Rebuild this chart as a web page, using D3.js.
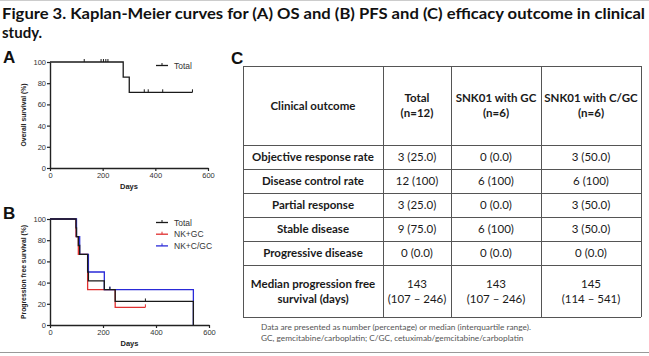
<!DOCTYPE html>
<html><head><meta charset="utf-8">
<script src="https://cdn.jsdelivr.net/npm/d3@7/dist/d3.min.js"></script>
<style>body{margin:0;background:#fff;}svg{display:block;}</style>
</head><body>
<script>
// ---- data ----
const titleLines = ["Figure 3. Kaplan-Meier curves for (A) OS and (B) PFS and (C) efficacy outcome in clinical", "study."];
const xTicks = [0, 200, 400, 600];
const yTicks = [0, 20, 40, 60, 80, 100];
// OS (A)
const osTotal = [[0,100],[278,85.7],[301,71.4],[541,71.4]];
const osCensor = [130,194,203,212,220,358,373,428,541];
// PFS (B)
const pfsTotal = [[0,100],[98,91.7],[100,83.3],[107,75],[112,66.7],[142,50],[145,41.7],[205,33.3],[246,22.2],[541,0]];
const pfsGC = [[0,100],[98,83.3],[107,66.7],[142,33.3],[246,16.7],[360,16.7]];
const pfsCGC = [[0,100],[100,83.3],[112,66.7],[145,50],[205,33.3],[541,33.3],[541,0]];
const pfsCensorTotal = [226, 360];
const pfsCensorGC = [360];
const pfsCensorCGC = [226];
const pfsNames = ["Total", "NK+GC", "NK+C/GC"];
const pfsColors = ["#1a1a1a", "#e03030", "#2a2ad8"];
// Table (C)
const tableHeader = [["Clinical outcome"], ["Total", "(n=12)"], ["SNK01 with GC", "(n=6)"], ["SNK01 with C/GC", "(n=6)"]];
const rowLabels = [["Objective response rate"], ["Disease control rate"], ["Partial response"], ["Stable disease"], ["Progressive disease"], ["Median progression free", "survival (days)"]];
const colTotal = [["3 (25.0)"], ["12 (100)"], ["3 (25.0)"], ["9 (75.0)"], ["0 (0.0)"], ["143", "(107 \u2013 246)"]];
const colGC = [["0 (0.0)"], ["6 (100)"], ["0 (0.0)"], ["6 (100)"], ["0 (0.0)"], ["143", "(107 \u2013 246)"]];
const colCGC = [["3 (50.0)"], ["6 (100)"], ["3 (50.0)"], ["3 (50.0)"], ["0 (0.0)"], ["145", "(114 \u2013 541)"]];
const footnotes = ["Data are presented as number (percentage) or median (interquartile range).", "GC, gemcitabine/carboplatin; C/GC, cetuximab/gemcitabine/carboplatin"];

// ---- drawing ----
const W = 649, H = 356;
const svg = d3.select("body").append("svg").attr("width", W).attr("height", H);
const sans = "Lato, 'Open Sans', sans-serif";
const arial = "'Liberation Sans', Arial, sans-serif";

svg.append("line").attr("x1",0).attr("x2",W).attr("y1",0.5).attr("y2",0.5).attr("stroke","#ccc");
svg.append("line").attr("x1",0).attr("x2",W).attr("y1",352.5).attr("y2",352.5).attr("stroke","#999");

svg.append("text").attr("x", 2).attr("y", 19).text(titleLines[0])
  .attr("font-family", sans).attr("font-weight", "bold").attr("font-size", 15).attr("fill", "#111")
  .attr("textLength", 643).attr("lengthAdjust", "spacingAndGlyphs");
svg.append("text").attr("x", 2).attr("y", 38).text(titleLines[1])
  .attr("font-family", sans).attr("font-weight", "bold").attr("font-size", 15).attr("fill", "#111");

function panelLetter(t, x, y) {
  svg.append("text").attr("x", x).attr("y", y).text(t).attr("font-family", arial)
    .attr("font-weight", "bold").attr("font-size", 17).attr("fill", "#111");
}
panelLetter("A", 3, 63);
panelLetter("B", 3, 219);
panelLetter("C", 231, 64);

function kmPanel(x0, x1, yTop, yBot, ylabel) {
  const x = d3.scaleLinear().domain([0, 600]).range([x0, x1]);
  const y = d3.scaleLinear().domain([0, 100]).range([yBot, yTop]);
  const g = svg.append("g");
  const ax = g.append("g").attr("transform", `translate(0,${yBot})`)
    .call(d3.axisBottom(x).tickValues(xTicks).tickSize(3).tickSizeOuter(0).tickPadding(2));
  const ay = g.append("g").attr("transform", `translate(${x0},0)`)
    .call(d3.axisLeft(y).tickValues(yTicks).tickSize(3).tickSizeOuter(0).tickPadding(1));
  [ax, ay].forEach(a => {
    a.select(".domain").attr("stroke", "#222").attr("stroke-width", 1.4);
    a.selectAll(".tick line").attr("stroke", "#222").attr("stroke-width", 1.2);
    a.selectAll(".tick text").attr("font-family", arial).attr("font-size", 7.5).attr("fill", "#333");
  });
  g.append("text").attr("x", (x0 + x1) / 2).attr("y", yBot + 21).attr("text-anchor", "middle")
    .text("Days").attr("font-family", arial).attr("font-weight", "bold").attr("font-size", 7.5).attr("fill", "#222");
  g.append("text").attr("transform", `translate(${x0 - 24},${(yTop + yBot) / 2}) rotate(-90)`)
    .attr("text-anchor", "middle").text(ylabel).attr("font-family", arial).attr("font-weight", "bold")
    .attr("font-size", 6.8).attr("fill", "#222");
  return { x, y, g };
}

function drawCurve(p, pts, censor, color) {
  const line = d3.line().x(d => p.x(d[0])).y(d => p.y(d[1])).curve(d3.curveStepAfter);
  p.g.append("path").attr("d", line(pts)).attr("fill", "none").attr("stroke", color).attr("stroke-width", 1.3);
  const survAt = t => { let s = pts[0][1]; pts.forEach(d => { if (d[0] <= t) s = d[1]; }); return s; };
  censor.forEach(t => {
    const yy = p.y(t >= pts[pts.length - 1][0] && pts[pts.length-1][1] === 0 ? pts[pts.length - 2][1] : survAt(t));
    p.g.append("line").attr("x1", p.x(t)).attr("x2", p.x(t)).attr("y1", yy - 3).attr("y2", yy)
      .attr("stroke", color).attr("stroke-width", 1);
  });
}

function legendItem(x, y, name, color) {
  svg.append("line").attr("x1", x).attr("x2", x + 12).attr("y1", y).attr("y2", y).attr("stroke", color).attr("stroke-width", 1.3);
  svg.append("line").attr("x1", x + 6).attr("x2", x + 6).attr("y1", y - 2.5).attr("y2", y).attr("stroke", color).attr("stroke-width", 1);
  svg.append("text").attr("x", x + 18).attr("y", y + 3).text(name).attr("font-family", arial)
    .attr("font-size", 8.5).attr("fill", "#333");
}

const pA = kmPanel(50, 208, 62, 168, "Overall survival (%)");
drawCurve(pA, osTotal, osCensor, "#1a1a1a");
legendItem(156, 65.5, "Total", "#1a1a1a");

const pB = kmPanel(50, 209, 219, 325, "Progression free survival (%)");
drawCurve(pB, pfsGC, pfsCensorGC, pfsColors[1]);
drawCurve(pB, pfsCGC, pfsCensorCGC, pfsColors[2]);
drawCurve(pB, pfsTotal, pfsCensorTotal, pfsColors[0]);
[pfsNames[0], pfsNames[1], pfsNames[2]].forEach((n, i) => legendItem(156, 222.5 + i * 11.7, n, pfsColors[i]));

// Table
const colX = [243, 383, 451, 541, 641];
const rowY = [66, 145, 169, 193, 217, 241, 265, 317];
const tg = svg.append("g");
rowY.forEach(yv => tg.append("line").attr("x1", colX[0]).attr("x2", colX[4]).attr("y1", yv + 0.5).attr("y2", yv + 0.5).attr("stroke", "#555").attr("stroke-width", 1));
colX.forEach(xv => tg.append("line").attr("x1", xv + 0.5).attr("x2", xv + 0.5).attr("y1", rowY[0]).attr("y2", rowY[7]).attr("stroke", "#555").attr("stroke-width", 1));

function cell(lines, ci, ri0, ri1, bold) {
  const cx = (colX[ci] + colX[ci + 1]) / 2;
  const cy = (rowY[ri0] + rowY[ri1]) / 2;
  const lh = 15;
  lines.forEach((t, k) => {
    tg.append("text").attr("x", cx).attr("y", cy + (k - (lines.length - 1) / 2) * lh + 4)
      .attr("text-anchor", "middle").text(t).attr("font-family", sans)
      .attr("font-weight", bold ? "bold" : "normal").attr("font-size", 11.5).attr("fill", "#1a1a1a");
  });
}
tableHeader.forEach((h, ci) => cell(h, ci, 0, 1, true));
rowLabels.forEach((r, ri) => {
  cell(r, 0, ri + 1, ri + 2, true);
  cell(colTotal[ri], 1, ri + 1, ri + 2, false);
  cell(colGC[ri], 2, ri + 1, ri + 2, false);
  cell(colCGC[ri], 3, ri + 1, ri + 2, false);
});
footnotes.forEach((t, i) => svg.append("text").attr("x", 261).attr("y", 330 + i * 11).text(t)
  .attr("font-family", sans).attr("font-size", 8.3).attr("fill", "#555"));
</script>
</body></html>
